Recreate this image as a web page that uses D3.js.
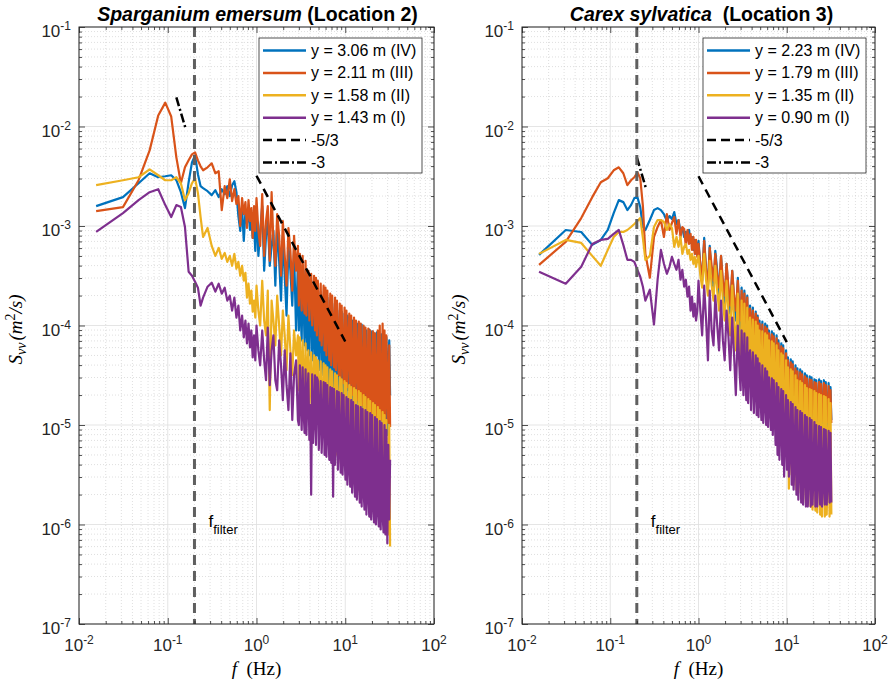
<!DOCTYPE html>
<html>
<head>
<meta charset="utf-8">
<script src="https://cdn.jsdelivr.net/npm/d3@7"></script>
<style>
  body { margin: 0; background: #fff; }
</style>
</head>
<body>
<svg id="chart" width="893" height="686" font-family='Arial, "Liberation Sans", Helvetica, sans-serif'></svg>
<script>
// frequency grid (Hz), shared by every spectrum
const freqLow = [0.0156,0.0313,0.0469,0.0625,0.0781,0.0938,0.1094,0.125,0.1406,0.1563,0.1719,0.1875,0.2031,0.2188,0.2344,0.25];
const freqMid = [0.281,0.313,0.344,0.375,0.406,0.438,0.469,0.5,0.531,0.563,0.594,0.625,0.656,0.688,0.719,0.75,0.781,0.813,0.844,0.875,0.906,0.938,0.969];
const freqHigh = [1.0,1.05,1.10,1.16,1.22,1.28,1.34,1.41,1.48,1.55,1.63,1.71,1.80,1.89,1.98,2.08,2.18,2.29,2.41,2.53,2.65,2.79,2.93,
  3.00,3.08,3.15,3.23,3.31,3.39,3.48,3.57,3.65,3.75,
  3.84,3.94,4.03,4.13,4.24,4.34,4.45,4.56,4.68,4.79,
  4.91,5.04,5.16,5.29,5.42,5.56,5.70,5.84,5.99,6.14,
  6.29,6.45,6.61,6.78,6.95,7.12,7.30,7.48,7.67,7.86,
  8.06,8.26,8.46,8.67,8.89,9.11,9.34,9.58,9.82,10.06,
  10.31,10.57,10.83,11.10,11.38,11.67,11.96,12.26,12.56,12.88,
  13.20,13.53,13.87,14.21,14.57,14.93,15.31,15.69,16.08,16.48,
  16.89,17.32,17.75,18.19,18.65,19.11,19.59,20.08,20.58,21.10,
  21.62,22.16,22.72,23.29,23.87,24.47,25.08,25.70,26.35,27.00,
  27.68,28.37,29.08,29.81,30.55,31.32,32.0];
const freqs = freqLow.concat(freqMid, freqHigh);

// log10(Svv) -- Sparganium emersum (Location 2)
const spargIV = [-2.80,-2.71,-2.57,-2.47,-2.51,-2.50,-2.49,-2.54,-2.66,-2.82,-2.56,-2.36,-2.29,-2.48,-2.60,-2.62,
  -2.65,-2.69,-2.64,-2.71,-2.63,-2.68,-2.60,-2.70,-2.59,-2.55,-2.66,-2.90,-3.05,-2.82,-3.15,-2.86,-2.97,-2.84,-3.04,-2.90,-3.12,-2.98,-3.25,
  -2.85,-3.30,-3.05,-2.80,-3.45,-3.10,-2.95,-3.40,-3.20,-3.05,-3.60,-3.00,-3.35,-3.75,-3.10,-3.50,-3.90,-3.20,-3.45,-3.80,-3.25,-4.05,-3.35,
  -4.05,-3.35,-3.90,-4.15,-3.40,-3.70,-4.20,-3.45,-4.00,-4.25,
  -3.50,-4.30,-3.80,-3.55,-4.35,-4.10,-3.58,-4.40,-3.65,-4.30,
  -3.62,-4.45,-3.95,-3.66,-4.50,-4.20,-3.70,-4.55,-3.85,-4.60,
  -3.72,-4.35,-4.62,-3.75,-4.50,-3.78,-4.68,-4.10,-3.80,-4.70,
  -3.82,-4.72,-4.30,-3.85,-4.75,-3.86,-4.55,-4.78,-3.88,-4.20,
  -4.80,-3.90,-4.65,-3.92,-4.85,-4.40,-3.95,-4.88,-3.96,-4.60,
  -4.92,-3.98,-4.50,-4.95,-4.00,-4.70,-3.99,-4.98,-4.30,-4.02,
  -5.00,-4.05,-4.80,-5.02,-4.04,-4.60,-5.03,-4.06,-4.90,-4.08,
  -5.05,-4.50,-4.07,-5.06,-4.10,-4.85,-5.08,-4.09,-4.70,-5.10,
  -4.10,-4.95,-4.12,-5.10,-4.40,-4.15,-4.70];
const spargIII = [-2.85,-2.81,-2.54,-2.24,-1.89,-1.76,-1.90,-2.31,-2.57,-2.41,-2.34,-2.28,-2.26,-2.34,-2.40,-2.44,
  -2.41,-2.37,-2.47,-2.45,-2.84,-2.60,-2.72,-2.53,-2.75,-2.63,-2.78,-2.70,-3.00,-2.72,-2.88,-2.76,-3.02,-2.74,-2.95,-2.82,-3.12,-2.80,-3.05,
  -2.72,-3.05,-3.20,-2.68,-3.30,-2.95,-2.80,-3.35,-2.66,-3.15,-3.40,-2.88,-3.10,-3.50,-2.95,-3.30,-3.60,-3.02,-3.25,-3.65,-3.10,-3.45,-3.20,
  -3.80,-3.28,-3.60,-3.85,-3.30,-3.70,-3.88,-3.35,-3.90,-3.50,
  -3.45,-3.95,-3.62,-3.48,-4.00,-3.75,-3.50,-4.05,-3.52,-4.10,
  -3.55,-3.85,-4.15,-3.58,-4.20,-3.90,-3.60,-4.25,-3.62,-4.30,
  -3.65,-4.00,-4.35,-3.68,-4.40,-3.70,-4.10,-4.42,-3.72,-4.45,
  -3.75,-4.25,-4.50,-3.78,-4.55,-3.80,-4.30,-4.58,-3.82,-4.60,
  -3.85,-4.62,-4.20,-3.88,-4.65,-3.90,-4.50,-4.70,-3.92,-4.72,
  -3.95,-4.40,-4.75,-3.96,-4.78,-3.98,-4.60,-4.80,-4.00,-4.82,
  -4.02,-4.50,-4.85,-4.03,-4.86,-4.05,-4.70,-4.88,-4.06,-4.90,
  -4.08,-4.60,-4.92,-4.05,-4.93,-4.00,-4.80,-4.95,-3.98,-4.96,
  -4.05,-4.97,-4.10,-4.70,-4.98,-4.20,-5.02];
const spargII = [-2.59,-2.54,-2.51,-2.43,-2.49,-2.54,-2.54,-2.51,-2.57,-2.74,-2.67,-2.57,-2.52,-2.67,-2.91,-3.11,
  -3.02,-3.20,-3.30,-3.22,-3.33,-3.27,-3.36,-3.30,-3.40,-3.28,-3.43,-3.36,-3.50,-3.40,-3.55,-3.47,-3.72,-3.58,-3.78,-3.65,-3.86,-3.75,-3.92,
  -3.60,-3.85,-4.00,-3.55,-3.95,-4.10,-3.65,-4.85,-3.75,-3.95,-4.20,-3.70,-4.00,-4.30,-3.85,-4.10,-4.45,-3.90,-4.25,-4.50,-4.05,-4.30,-4.10,
  -4.65,-4.12,-4.45,-4.70,-4.15,-4.55,-4.75,-4.18,-4.80,-4.40,
  -4.25,-4.85,-4.50,-4.27,-4.90,-4.60,-4.30,-4.95,-4.32,-4.98,
  -4.35,-4.70,-5.00,-4.36,-5.05,-4.75,-4.38,-5.10,-4.40,-5.15,
  -4.42,-4.85,-5.18,-4.44,-5.20,-4.46,-4.90,-5.25,-4.48,-5.30,
  -4.50,-5.00,-5.32,-4.52,-5.38,-4.54,-5.10,-5.40,-4.56,-5.45,
  -4.58,-5.48,-5.05,-4.60,-5.52,-4.62,-5.25,-5.58,-4.63,-5.60,
  -4.65,-5.20,-5.65,-4.66,-5.68,-4.68,-5.40,-5.72,-4.70,-5.75,
  -4.72,-5.35,-5.78,-4.74,-5.80,-4.76,-5.50,-5.82,-4.78,-5.85,
  -4.80,-5.45,-5.88,-4.82,-5.90,-4.85,-5.60,-5.95,-4.87,-6.00,
  -4.90,-6.02,-4.95,-5.70,-6.10,-5.00,-6.22];
const spargI = [-3.06,-2.87,-2.74,-2.66,-2.63,-2.79,-2.91,-2.79,-2.81,-3.01,-3.46,-3.50,-3.56,-3.62,-3.80,-3.72,
  -3.61,-3.57,-3.66,-3.58,-3.68,-3.62,-3.75,-3.70,-3.85,-3.72,-3.92,-3.80,-4.05,-3.90,-4.12,-3.95,-4.18,-3.98,-4.22,-4.05,-4.32,-4.10,-4.35,
  -4.00,-4.25,-4.40,-4.05,-4.35,-4.55,-4.02,-4.60,-4.25,-4.10,-4.55,-4.65,-4.15,-4.40,-4.75,-4.25,-4.60,-4.85,-4.28,-4.95,-4.50,-4.35,-4.95,
  -5.00,-4.40,-4.75,-5.05,-4.42,-4.85,-5.08,-4.44,-5.10,-4.70,
  -4.48,-5.15,-4.80,-5.70,-4.49,-5.18,-4.90,-4.50,-5.20,-4.52,
  -4.55,-5.25,-4.85,-4.56,-5.28,-4.95,-4.57,-5.30,-4.58,-5.32,
  -4.60,-5.05,-5.35,-4.62,-5.38,-4.63,-5.72,-4.64,-5.40,-5.10,
  -4.66,-5.45,-4.67,-5.20,-5.48,-4.68,-5.50,-4.70,-5.30,-5.55,
  -4.72,-5.60,-4.74,-5.40,-5.62,-4.75,-5.68,-4.77,-5.50,-5.72,
  -4.80,-5.75,-4.81,-5.55,-5.78,-4.82,-5.82,-4.84,-5.65,-5.85,
  -4.85,-5.90,-4.87,-5.70,-5.92,-4.88,-5.95,-4.90,-5.80,-5.98,
  -4.92,-6.00,-4.94,-5.85,-6.02,-4.96,-6.05,-4.98,-5.90,-6.08,
  -5.00,-6.10,-5.05,-6.19,-5.20,-5.95,-5.35];

// log10(Svv) -- Carex sylvatica (Location 3)
const carexIV = [-3.29,-3.04,-3.06,-3.19,-3.14,-3.04,-2.87,-2.74,-2.76,-2.84,-2.79,-2.72,-2.71,-2.81,-3.01,-3.04,
  -2.94,-2.84,-2.82,-2.84,-2.88,-2.95,-2.90,-2.93,-2.86,-2.98,-2.94,-3.06,-3.02,-3.11,-3.06,-3.08,-3.04,-3.17,-3.11,-3.24,-3.14,-3.28,-3.21,
  -3.15,-3.40,-3.55,-3.12,-3.45,-3.60,-3.20,-3.50,-3.65,-3.25,-3.45,-3.70,-3.30,-3.60,-3.80,-3.38,-3.65,-3.88,-3.45,-3.75,-3.95,-3.52,-4.00,
  -4.10,-3.62,-3.90,-4.15,-3.65,-3.95,-4.20,-3.70,-4.22,-3.90,
  -3.80,-4.30,-4.00,-3.82,-4.32,-4.05,-3.86,-4.38,-3.90,-4.42,
  -3.95,-4.20,-4.45,-3.96,-4.48,-4.25,-3.98,-4.50,-4.00,-4.52,
  -4.05,-4.30,-4.55,-4.06,-4.58,-4.08,-4.40,-4.60,-4.10,-4.62,
  -4.15,-4.45,-4.65,-4.18,-4.92,-4.20,-4.55,-4.72,-4.25,-4.78,
  -4.32,-4.60,-4.80,-4.34,-4.82,-4.36,-4.65,-4.85,-4.40,-4.88,
  -4.43,-4.70,-4.90,-4.44,-4.92,-4.46,-4.75,-4.95,-4.48,-4.96,
  -4.50,-4.80,-4.98,-4.51,-4.99,-4.52,-4.85,-5.00,-4.54,-5.01,
  -4.55,-4.88,-5.02,-4.54,-5.02,-4.56,-4.90,-5.03,-4.55,-5.04,
  -4.57,-4.90,-5.04,-4.58,-5.00,-4.62,-4.95];
const carexIII = [-3.39,-3.16,-2.92,-2.71,-2.56,-2.52,-2.44,-2.41,-2.47,-2.59,-2.54,-2.51,-2.46,-2.52,-2.80,-3.28,
  -3.52,-3.11,-3.01,-2.94,-3.11,-2.88,-3.04,-2.97,-2.91,-3.08,-2.94,-3.11,-3.01,-3.03,-3.21,-3.04,-3.18,-3.08,-3.24,-3.11,-3.28,-3.14,-3.31,
  -3.18,-3.40,-3.50,-3.15,-3.45,-3.58,-3.22,-3.40,-3.55,-3.28,-3.50,-3.62,-3.30,-3.55,-3.70,-3.38,-3.60,-3.80,-3.45,-3.70,-3.85,-3.55,-3.90,
  -3.95,-3.65,-3.85,-4.00,-3.68,-3.90,-4.05,-3.72,-4.08,-3.88,
  -3.83,-4.15,-3.98,-3.85,-4.20,-4.00,-3.88,-4.25,-3.92,-4.28,
  -3.98,-4.15,-4.32,-3.99,-4.35,-4.20,-4.01,-4.38,-4.03,-4.40,
  -4.08,-4.25,-4.45,-4.09,-4.48,-4.11,-4.35,-4.50,-4.13,-4.52,
  -4.18,-4.40,-4.55,-4.21,-4.60,-4.23,-4.48,-4.64,-4.28,-4.68,
  -4.35,-4.55,-4.70,-4.37,-4.72,-4.39,-4.60,-4.76,-4.43,-4.78,
  -4.46,-4.65,-4.82,-4.47,-4.84,-4.49,-4.70,-4.86,-4.51,-4.88,
  -4.53,-4.75,-4.90,-4.54,-4.91,-4.55,-4.80,-4.92,-4.57,-4.93,
  -4.58,-4.82,-4.94,-4.57,-4.95,-4.59,-4.85,-4.96,-4.58,-4.97,
  -4.60,-4.88,-4.97,-4.61,-4.96,-4.65,-4.98];
const carexII = [-3.28,-3.14,-3.17,-3.30,-3.40,-3.24,-3.11,-3.06,-3.06,-3.04,-3.01,-2.98,-2.95,-2.92,-3.12,-3.34,
  -3.30,-3.01,-2.94,-2.94,-2.96,-3.04,-2.98,-3.02,-3.21,-3.11,-3.21,-3.11,-3.28,-3.21,-3.18,-3.28,-3.24,-3.34,-3.28,-3.38,-3.31,-3.41,-3.34,
  -3.30,-3.50,-3.62,-3.28,-3.55,-3.70,-3.35,-3.60,-3.75,-3.40,-3.65,-3.85,-3.45,-3.75,-3.95,-3.55,-3.85,-4.10,-3.60,-3.95,-4.25,-3.68,-4.40,
  -4.45,-3.75,-4.10,-4.48,-3.78,-4.20,-4.52,-3.82,-4.55,-4.00,
  -3.92,-4.60,-4.15,-3.94,-4.62,-4.30,-3.96,-4.66,-4.00,-4.70,
  -4.05,-4.40,-4.75,-4.06,-4.78,-4.45,-4.08,-4.80,-4.10,-4.82,
  -4.15,-4.55,-4.85,-4.16,-4.88,-4.18,-4.60,-4.92,-4.20,-4.95,
  -4.25,-4.70,-5.00,-4.28,-5.10,-4.30,-5.25,-4.80,-4.35,-5.35,
  -4.42,-5.64,-4.90,-4.44,-5.50,-4.46,-5.60,-5.05,-4.50,-5.65,
  -4.55,-5.68,-5.10,-4.56,-5.72,-4.58,-5.75,-5.20,-4.60,-5.78,
  -4.63,-5.80,-5.25,-4.64,-5.82,-4.65,-5.85,-5.30,-4.66,-5.86,
  -4.68,-5.88,-5.35,-4.69,-5.90,-4.70,-5.92,-5.40,-4.71,-5.92,
  -4.72,-5.90,-5.45,-4.74,-5.92,-4.78,-5.90];
const carexI = [-3.46,-3.58,-3.41,-3.18,-3.14,-3.13,-3.08,-3.04,-3.19,-3.34,-3.34,-3.36,-3.44,-3.51,-3.61,-3.75,
  -3.64,-3.99,-3.54,-3.24,-3.38,-3.48,-3.41,-3.31,-3.38,-3.44,-3.34,-3.54,-3.44,-3.61,-3.54,-3.71,-3.61,-3.85,-3.71,-3.91,-3.78,-3.95,-3.85,
  -3.55,-3.85,-4.10,-3.60,-3.95,-4.35,-3.65,-4.05,-4.20,-3.70,-4.00,-4.25,-3.75,-4.15,-4.35,-3.85,-4.10,-4.45,-3.92,-4.30,-4.70,-4.00,-4.50,
  -4.65,-4.05,-4.40,-4.70,-4.08,-4.50,-4.75,-4.12,-4.78,-4.30,
  -4.25,-4.85,-4.50,-4.27,-4.88,-4.60,-4.30,-4.90,-4.33,-4.92,
  -4.38,-4.70,-4.95,-4.40,-4.98,-4.75,-4.43,-5.00,-4.46,-5.02,
  -4.52,-4.80,-5.05,-4.53,-5.10,-4.55,-4.90,-5.20,-4.58,-5.30,
  -4.62,-5.35,-5.00,-4.64,-5.40,-4.66,-5.52,-5.10,-4.70,-5.45,
  -4.75,-5.52,-5.20,-4.77,-5.60,-4.79,-5.65,-5.30,-4.82,-5.70,
  -4.85,-5.75,-5.35,-4.86,-5.78,-4.88,-5.80,-5.40,-4.90,-5.82,
  -4.92,-5.82,-5.45,-4.93,-5.82,-4.95,-5.80,-5.50,-4.97,-5.82,
  -5.00,-5.82,-5.50,-5.01,-5.80,-5.02,-5.82,-5.55,-5.04,-5.80,
  -5.05,-5.80,-5.55,-5.06,-5.78,-5.08,-5.78];

const spargLabels = ['y = 3.06 m (IV)', 'y = 2.11 m (III)', 'y = 1.58 m (II)', 'y = 1.43 m (I)'];
const carexLabels = ['y = 2.23 m (IV)', 'y = 1.79 m (III)', 'y = 1.35 m (II)', 'y = 0.90 m (I)'];
const slopeLabels = ['-5/3', '-3'];

// reference slope segments [f, Svv]
const spargSlope53 = [[1, 3.2e-3], [10, 6.9e-5]];
const spargSlope3 = [[0.125, 1.96e-2], [0.158, 9.7e-3]];
const carexSlope53 = [[1, 3.16e-3], [10, 6.8e-5]];
const carexSlope3 = [[0.2, 4.9e-3], [0.255, 2.36e-3]];

const fFilter = 0.2;
const colors = ['#0072BD', '#D95319', '#EDB120', '#7E2F8E'];
const serif = '"Liberation Serif", "DejaVu Serif", serif';

const svg = d3.select('#chart');
const yTop = 27, yBot = 624;

function sup(sel, base, exp, size) {
  sel.text(base);
  sel.append('tspan').attr('dy', -7).attr('font-size', size).text(exp);
}

function drawPanel(p, idx) {
  const x = d3.scaleLog().domain([1e-2, 1e2]).range([p.x0, p.x1]);
  const y = d3.scaleLog().domain([1e-7, 1e-1]).range([yBot, yTop]);
  const g = svg.append('g');

  const allX = x.ticks(), allY = y.ticks();
  const isMajor = v => Math.abs(Math.log10(v) - Math.round(Math.log10(v))) < 1e-6;
  const majX = allX.filter(isMajor), minX = allX.filter(v => !isMajor(v));
  const majY = allY.filter(isMajor), minY = allY.filter(v => !isMajor(v));

  // grid
  g.append('g').selectAll('line').data(minX).join('line')
    .attr('x1', d => x(d)).attr('x2', d => x(d)).attr('y1', yTop).attr('y2', yBot)
    .attr('stroke', '#c9c9c9').attr('stroke-width', 0.6).attr('stroke-dasharray', '1,2');
  g.append('g').selectAll('line').data(minY).join('line')
    .attr('y1', d => y(d)).attr('y2', d => y(d)).attr('x1', p.x0).attr('x2', p.x1)
    .attr('stroke', '#c9c9c9').attr('stroke-width', 0.6).attr('stroke-dasharray', '1,2');
  g.append('g').selectAll('line').data(majX).join('line')
    .attr('x1', d => x(d)).attr('x2', d => x(d)).attr('y1', yTop).attr('y2', yBot)
    .attr('stroke', '#dedede').attr('stroke-width', 0.8);
  g.append('g').selectAll('line').data(majY).join('line')
    .attr('y1', d => y(d)).attr('y2', d => y(d)).attr('x1', p.x0).attr('x2', p.x1)
    .attr('stroke', '#dedede').attr('stroke-width', 0.8);

  // spectra
  const clipId = 'clip' + idx;
  svg.append('clipPath').attr('id', clipId).append('rect')
    .attr('x', p.x0).attr('y', yTop).attr('width', p.x1 - p.x0).attr('height', yBot - yTop);
  const line = d3.line().x(d => x(d[0])).y(d => y(d[1]));
  const plot = g.append('g').attr('clip-path', `url(#${clipId})`);
  p.series.forEach((vals, i) => {
    if (vals.length !== freqs.length) console.warn('length mismatch', idx, i, vals.length);
    plot.append('path')
      .datum(freqs.map((f, k) => [f, Math.pow(10, vals[k])]))
      .attr('fill', 'none').attr('stroke', colors[i]).attr('stroke-width', 2.2)
      .attr('stroke-linejoin', 'round')
      .attr('d', line);
  });

  // slope guides
  plot.append('path').datum(p.slope53).attr('d', line)
    .attr('fill', 'none').attr('stroke', '#000').attr('stroke-width', 2.5).attr('stroke-dasharray', '9,6');
  plot.append('path').datum(p.slope3).attr('d', line)
    .attr('fill', 'none').attr('stroke', '#000').attr('stroke-width', 2.5).attr('stroke-dasharray', '9,3,2,3');

  // filter frequency
  plot.append('line')
    .attr('x1', x(fFilter)).attr('x2', x(fFilter)).attr('y1', yTop).attr('y2', yBot)
    .attr('stroke', '#5f5f5f').attr('stroke-width', 3).attr('stroke-dasharray', '10,6');
  const ft = g.append('text').attr('x', x(fFilter) + 14).attr('y', 527).attr('font-size', 17).text('f');
  ft.append('tspan').attr('dy', 7).attr('font-size', 13).text('filter');

  // axes (ticks inside, box on)
  const axCol = '#262626';
  const addAxis = (axis, tr) => {
    const a = g.append('g').attr('transform', tr).call(axis);
    a.select('.domain').remove();
    a.selectAll('text').remove();
    a.selectAll('line').attr('stroke', axCol).attr('stroke-width', 0.8);
  };
  addAxis(d3.axisBottom(x).tickValues(majX).tickSize(-6), `translate(0,${yBot})`);
  addAxis(d3.axisBottom(x).tickValues(minX).tickSize(-3), `translate(0,${yBot})`);
  addAxis(d3.axisTop(x).tickValues(majX).tickSize(-6), `translate(0,${yTop})`);
  addAxis(d3.axisTop(x).tickValues(minX).tickSize(-3), `translate(0,${yTop})`);
  addAxis(d3.axisLeft(y).tickValues(majY).tickSize(-6), `translate(${p.x0},0)`);
  addAxis(d3.axisLeft(y).tickValues(minY).tickSize(-3), `translate(${p.x0},0)`);
  addAxis(d3.axisRight(y).tickValues(majY).tickSize(-6), `translate(${p.x1},0)`);
  addAxis(d3.axisRight(y).tickValues(minY).tickSize(-3), `translate(${p.x1},0)`);
  g.append('rect').attr('x', p.x0).attr('y', yTop).attr('width', p.x1 - p.x0).attr('height', yBot - yTop)
    .attr('fill', 'none').attr('stroke', axCol).attr('stroke-width', 1);

  // tick labels
  majX.forEach(v => {
    const t = g.append('text').attr('x', x(v)).attr('y', yBot + 27).attr('text-anchor', 'middle')
      .attr('font-size', 17).attr('fill', axCol);
    sup(t, '10', String(Math.round(Math.log10(v))), 12);
  });
  majY.forEach(v => {
    const t = g.append('text').attr('x', p.x0 - 8).attr('y', y(v) + 10).attr('text-anchor', 'end')
      .attr('font-size', 17).attr('fill', axCol);
    sup(t, '10', String(Math.round(Math.log10(v))), 12);
  });

  // axis labels
  const cx = (p.x0 + p.x1) / 2;
  const xl = g.append('text').attr('x', cx).attr('y', 675).attr('text-anchor', 'middle')
    .attr('font-family', serif).attr('font-size', 19);
  xl.append('tspan').attr('font-style', 'italic').text('f');
  xl.append('tspan').attr('xml:space', 'preserve').text('  (Hz)');

  const yl = g.append('text').attr('transform', `translate(${p.x0 - 57},${(yTop + yBot) / 2 + 4}) rotate(-90)`)
    .attr('text-anchor', 'middle').attr('font-family', serif)
    .attr('font-size', 19).attr('font-style', 'italic');
  yl.append('tspan').text('S');
  yl.append('tspan').attr('dy', 4).attr('font-size', 14).text('vv');
  yl.append('tspan').attr('dy', -4).attr('dx', 2).text('(m');
  yl.append('tspan').attr('dy', -7).attr('font-size', 14).attr('font-style', 'normal').text('2');
  yl.append('tspan').attr('dy', 7).text('/s)');

  // title
  const tt = g.append('text').attr('x', cx + p.titleShift).attr('y', 21).attr('text-anchor', 'middle')
    .attr('font-size', 19.5).attr('font-weight', 'bold').style('white-space', 'pre');
  tt.append('tspan').attr('font-style', 'italic').text(p.title[0]);
  tt.append('tspan').text(p.title[1]);

  // legend
  const lx = p.legendX, ly = 38, lw = 163, lh = 135, rowH = 22.4;
  const lg = g.append('g');
  lg.append('rect').attr('x', lx).attr('y', ly).attr('width', lw).attr('height', lh)
    .attr('fill', '#fff').attr('stroke', axCol).attr('stroke-width', 0.8);
  const entries = p.labels.map((l, i) => ({ label: l, color: colors[i], dash: null }))
    .concat([{ label: slopeLabels[0], color: '#000', dash: '9,5' },
             { label: slopeLabels[1], color: '#000', dash: '9,3,2,3' }]);
  entries.forEach((e, i) => {
    const yy = ly + 12.5 + i * rowH;
    lg.append('line').attr('x1', lx + 4).attr('x2', lx + 47).attr('y1', yy).attr('y2', yy)
      .attr('stroke', e.color).attr('stroke-width', 2.5)
      .attr('stroke-dasharray', e.dash);
    lg.append('text').attr('x', lx + 52).attr('y', yy + 5.5).attr('font-size', 16).text(e.label);
  });
}

const panels = [
  { x0: 79, x1: 434, series: [spargIV, spargIII, spargII, spargI], labels: spargLabels,
    slope53: spargSlope53, slope3: spargSlope3, title: ['Sparganium emersum', ' (Location 2)'],
    titleShift: 1, legendX: 259 },
  { x0: 522, x1: 875, series: [carexIV, carexIII, carexII, carexI], labels: carexLabels,
    slope53: carexSlope53, slope3: carexSlope3, title: ['Carex sylvatica', '  (Location 3)'],
    titleShift: 3, legendX: 703 }
];
panels.forEach(drawPanel);
</script>
</body>
</html>
